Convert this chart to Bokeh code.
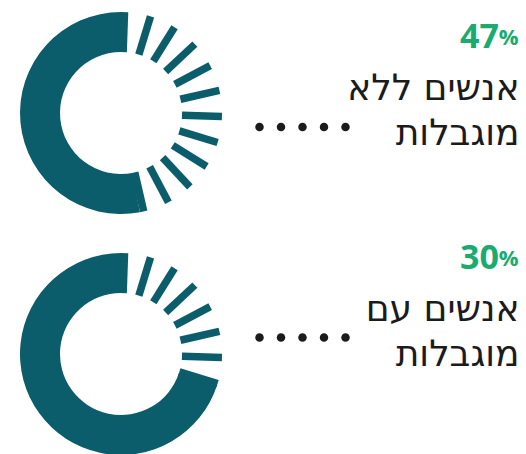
import numpy as np
from bokeh.plotting import figure
from bokeh.models import Range1d
from bokeh.core.properties import value
from bokeh.embed import file_html
from bokeh.resources import INLINE

# ---- data ----
percents = [47, 30]
pct_labels = ["47", "30"]
line1 = ["אנשים ללא", "אנשים עם"]
line2 = ["מוגבלות", "מוגבלות"]

# ---- style ----
TEAL = "#0b5d6b"
GREEN = "#19ab6f"
INK = "#1b1b1b"
FONT = "DejaVu Sans"
NUMFONT = "Open Sans"

W, H = 526, 454

def sy(y):  # screen y -> data y (y up)
    return H - y

p = figure(width=W, height=H, x_range=Range1d(0, W), y_range=Range1d(0, H),
           output_backend="svg", toolbar_location=None, min_border=0,
           x_axis_location=None, y_axis_location=None)
p.grid.visible = False
p.outline_line_color = None
p.background_fill_color = "white"

cx = 120.5
centers_y = [112.5, 353.5]
r_in, r_out = 61, 101
pct_base = [35, 256]       # text anchors (tuned)
lab_base = [87, 308]
line_gap = 45
dot_y = [126.5, 337]

for pct, lab, l1, l2, cyy, ty, ly, dy in zip(percents, pct_labels, line1, line2,
                                               centers_y, pct_base, lab_base, dot_y):
    cy = sy(cyy)
    split = pct * 3.6  # degrees, clockwise from 12 o'clock
    # solid remainder
    p.annular_wedge(x=[cx], y=[cy], inner_radius=r_in, outer_radius=r_out,
                    start_angle=[np.radians(90 - 360)], end_angle=[np.radians(90 - split)],
                    color=TEAL, line_color=None)
    # dashed share
    th = np.radians(np.arange(2, split, 15))
    p.segment(x0=cx + r_in * np.sin(th), y0=cy + r_in * np.cos(th),
              x1=cx + r_out * np.sin(th), y1=cy + r_out * np.cos(th),
              line_width=7.5, line_color=TEAL, line_cap="butt")
    # percentage
    p.text(x=[498.5], y=[sy(ty)], text=[lab], text_font=value(NUMFONT), text_font_style="bold",
           text_font_size="34px", text_color=GREEN, text_align="right",
           text_baseline="alphabetic")
    p.text(x=[518], y=[sy(ty)], text=["%"], text_font=value(NUMFONT), text_font_style="bold",
           text_font_size="22px", text_color=GREEN, text_align="right",
           text_baseline="alphabetic")
    # label
    p.text(x=[519, 519], y=[sy(ly), sy(ly + line_gap)], text=[l1, l2],
           text_font=value(FONT), text_font_size="36px", text_color=INK,
           text_align="right", text_baseline="alphabetic")
    # dots
    xs = 259 + 21.5 * np.arange(5)
    p.scatter(x=xs, y=[sy(dy)] * 5, size=8.5, color=INK, line_color=None)

open("out.html", "w").write(file_html(p, INLINE))
